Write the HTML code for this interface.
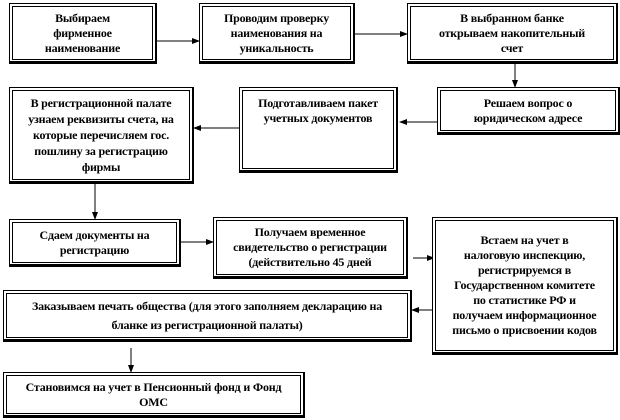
<!DOCTYPE html>
<html><head><meta charset="utf-8"><style>
body{margin:0;width:620px;height:420px;background:#fff;position:relative;overflow:hidden;font-family:"Liberation Serif","DejaVu Serif",serif;}
.b{position:absolute;box-sizing:border-box;border:1px solid #000;border-right-width:2px;border-bottom-width:3px;background:#fff;}
.b>div{position:absolute;left:2px;top:2px;right:2px;bottom:1px;border:1px solid #000;box-sizing:border-box;display:flex;justify-content:center;text-align:center;font-weight:bold;font-size:12px;line-height:15px;color:#000;padding:0 2px;white-space:nowrap;letter-spacing:-0.2px}
.c>div{align-items:center}
.t>div{align-items:flex-start;padding-top:5px}
svg{position:absolute;left:0;top:0}
</style></head><body>
<svg width="620" height="420">
<defs><marker id="a" markerWidth="8" markerHeight="8" refX="7" refY="4" orient="auto" markerUnits="userSpaceOnUse"><path d="M0,1 L8,4 L0,7 z" fill="#000"/></marker></defs>
<g stroke="#000" stroke-width="1" fill="none" marker-end="url(#a)">
<line x1="157" y1="41" x2="199" y2="41"/>
<line x1="355" y1="34" x2="407" y2="34"/>
<line x1="515" y1="63" x2="515" y2="87"/>
<line x1="437" y1="122" x2="400" y2="122"/>
<line x1="240" y1="128" x2="194" y2="128"/>
<line x1="95" y1="184" x2="95" y2="219"/>
<line x1="181" y1="242" x2="213" y2="242"/>
<line x1="413" y1="258" x2="434" y2="258"/>
<line x1="434" y1="310" x2="412" y2="310"/>
<line x1="131" y1="348" x2="131" y2="372"/>
</g></svg>
<div class="b c" style="left:9px;top:3px;width:148px;height:61px"><div>Выбираем<br>фирменное<br>наименование</div></div>
<div class="b c" style="left:199px;top:3px;width:156px;height:61px"><div>Проводим проверку<br>наименования на<br>уникальность</div></div>
<div class="b c" style="left:407px;top:3px;width:211px;height:61px"><div>В выбранном банке<br>открываем накопительный<br>счет</div></div>
<div class="b c" style="left:437px;top:87px;width:183px;height:48px"><div>Решаем вопрос о<br>юридическом адресе</div></div>
<div class="b t" style="left:239px;top:87px;width:159px;height:86px"><div>Подготавливаем пакет<br>учетных документов</div></div>
<div class="b c" style="left:9px;top:87px;width:185px;height:97px"><div style="line-height:16px">В регистрационной палате<br>узнаем реквизиты счета, на<br>которые перечисляем гос.<br>пошлину за регистрацию<br>фирмы</div></div>
<div class="b c" style="left:9px;top:219px;width:172px;height:48px"><div>Сдаем документы на<br>регистрацию</div></div>
<div class="b c" style="left:213px;top:217px;width:195px;height:62px"><div>Получаем временное<br>свидетельство о регистрации<br>(действительно 45 дней</div></div>
<div class="b c" style="left:432px;top:217px;width:186px;height:138px"><div>Встаем на учет в<br>налоговую инспекцию,<br>регистрируемся в<br>Государственном комитете<br>по статистике РФ и<br>получаем информационное<br>письмо о присвоении кодов</div></div>
<div class="b c" style="left:3px;top:290px;width:409px;height:52px"><div style="line-height:19px">Заказываем печать общества (для этого заполняем декларацию на<br>бланке из регистрационной палаты)</div></div>
<div class="b c" style="left:3px;top:372px;width:302px;height:46px"><div>Становимся на учет в Пенсионный фонд и Фонд<br>ОМС</div></div>
</body></html>
